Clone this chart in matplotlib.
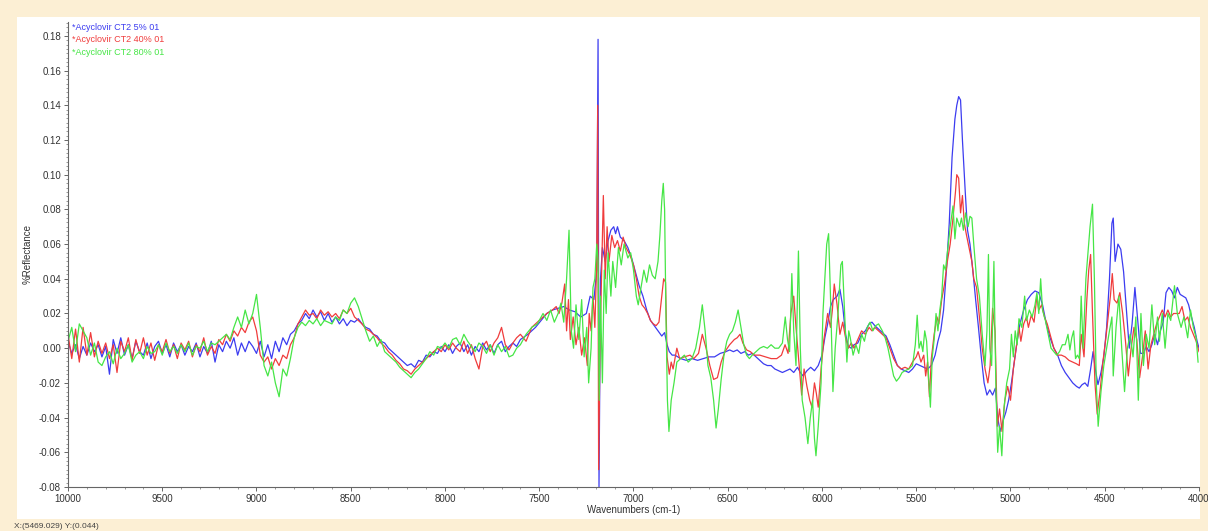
import numpy as np
import matplotlib
matplotlib.use('Agg')
import matplotlib.pyplot as plt
from matplotlib.patches import Rectangle
from matplotlib.ticker import MultipleLocator, FormatStrFormatter

plt.rcParams['font.family'] = ['Liberation Sans', 'DejaVu Sans']

# подписи и цвета спектров
labels = ['*Acyclovir CT2 5% 01', '*Acyclovir CT2 40% 01', '*Acyclovir CT2 80% 01']
colors = ['#3c3cf0', '#f03c3c', '#46e646']

# левая (шумная) часть, общая сетка волновых чисел
wn_left = np.arange(10000, 7600, -20)

blue_left = [
    0.004, -0.003, 0.002, -0.006, 0.001, -0.004, 0.003, -0.002, 0.002, -0.005,
    0.001, -0.015, 0.005, -0.003, 0.006, -0.004, 0.002, -0.006, 0.004, -0.002,
    -0.004, 0.003, -0.006, 0.001, 0.004, -0.003, 0.002, -0.005, 0.003, -0.002,
    0.002, -0.004, 0.001, -0.002, 0.003, -0.005, 0.001, -0.003, 0.004, -0.008,
    0.002, -0.002, 0.004, 0.0, 0.006, -0.004, 0.003, -0.002, 0.004, 0.001,
    -0.003, 0.004, -0.005, 0.002, -0.006, 0.004, -0.002, 0.006, 0.002, 0.008,
    0.01, 0.014, 0.016, 0.02, 0.017, 0.022, 0.018, 0.021, 0.016, 0.02,
    0.015, 0.018, 0.014, 0.017, 0.013, 0.016, 0.015, 0.017, 0.014, 0.012,
    0.011, 0.008, 0.007, 0.004, 0.003, 0.0, -0.002, -0.004, -0.006, -0.008,
    -0.01, -0.009, -0.011, -0.007, -0.008, -0.004, -0.005, -0.002, -0.003, 0.001,
    -0.002, 0.002, -0.003, 0.001, 0.003, -0.002, 0.002, -0.004, 0.001, -0.002,
    0.003, -0.001, 0.002, -0.003, 0.002, 0.004, -0.002, 0.001, 0.003, 0.001,
]

red_left = [
    0.008, -0.006, 0.011, -0.008, 0.012, -0.004, 0.009, -0.005, 0.004, -0.003,
    0.003, -0.006, 0.002, -0.014, 0.004, -0.002, 0.006, -0.007, 0.005, -0.003,
    0.006, -0.004, 0.003, -0.007, 0.002, -0.002, 0.005, -0.003, 0.002, -0.006,
    0.003, -0.001, 0.004, -0.005, 0.002, -0.002, 0.006, -0.004, 0.001, -0.003,
    0.005, 0.002, 0.008, 0.004, 0.01, 0.007, 0.012, 0.009, 0.015, 0.018,
    0.01, -0.004, -0.008, -0.005, -0.012, -0.006, -0.01, -0.004, -0.006, 0.002,
    0.006, 0.014, 0.018, 0.022, 0.019, 0.02, 0.017, 0.022, 0.019, 0.021,
    0.018, 0.02, 0.017, 0.022, 0.02, 0.023, 0.018, 0.016, 0.014, 0.011,
    0.01, 0.008, 0.006, 0.003, 0.001, -0.002, -0.004, -0.007, -0.009, -0.012,
    -0.013, -0.015, -0.012, -0.01, -0.008, -0.006, -0.004, -0.002, 0.0, -0.002,
    0.002, -0.001, 0.003, 0.0, -0.002, 0.004, -0.003, 0.002, -0.006, -0.012,
    0.001, 0.004, -0.002, 0.003, 0.006, 0.012, 0.002, -0.001, 0.003, 0.006,
]

green_left = [
    0.004, 0.012, -0.002, 0.014, 0.01, 0.006, -0.004, 0.003, -0.008, -0.01,
    -0.005, -0.002, -0.009, 0.0, -0.006, -0.003, 0.002, -0.008, -0.004, -0.002,
    -0.006, 0.001, -0.003, -0.002, 0.002, -0.004, 0.003, -0.002, 0.001, -0.003,
    0.002, -0.002, 0.003, -0.004, 0.001, 0.0, 0.004, -0.002, 0.003, 0.002,
    0.004, 0.006, 0.008, 0.005, 0.012, 0.018, 0.012, 0.022, 0.014, 0.02,
    0.031, 0.012, -0.01, -0.016, -0.008, -0.02, -0.028, -0.012, -0.016, -0.006,
    0.006, 0.012, 0.015, 0.013, 0.016, 0.014, 0.017, 0.013, 0.016, 0.015,
    0.014, 0.018, 0.016, 0.022, 0.02, 0.026, 0.029, 0.024, 0.017, 0.01,
    0.004, 0.007, 0.001, 0.005, -0.002, -0.004, -0.006, -0.008, -0.011, -0.013,
    -0.015, -0.017, -0.014, -0.012, -0.009, -0.006, -0.002, -0.004, 0.001, 0.0,
    0.003, 0.0, 0.005, 0.006, 0.002, 0.008, 0.004, 0.001, -0.002, 0.003,
    0.001, -0.003, 0.002, -0.004, 0.002, -0.002, 0.001, -0.005, -0.004, 0.0,
]

# правая часть: (волновое число, значение)
blue_right = [
    (7600, 0.005), (7560, 0.008), (7520, 0.012), (7490, 0.016), (7460, 0.02),
    (7430, 0.022), (7400, 0.023), (7370, 0.024), (7340, 0.022), (7310, 0.021),
    (7280, 0.018), (7250, 0.02), (7230, 0.03), (7210, 0.028), (7195, 0.045),
    (7188, 0.178), (7183, -0.08), (7175, 0.04), (7165, 0.058), (7150, 0.05),
    (7135, 0.062), (7120, 0.068), (7105, 0.07), (7095, 0.066), (7085, 0.07),
    (7070, 0.064), (7050, 0.062), (7030, 0.058), (7010, 0.052), (6990, 0.044),
    (6970, 0.036), (6950, 0.03), (6930, 0.022), (6910, 0.016), (6890, 0.013),
    (6870, 0.01), (6850, 0.007), (6835, 0.009), (6822, 0.002), (6810, -0.002),
    (6795, -0.004), (6780, -0.004), (6750, -0.006), (6720, -0.007), (6690, -0.006),
    (6660, -0.007), (6630, -0.006), (6600, -0.005), (6570, -0.005), (6540, -0.003),
    (6510, -0.002), (6490, -0.001), (6470, -0.002), (6450, -0.001), (6430, -0.003),
    (6410, -0.002), (6390, -0.004), (6370, -0.003), (6350, -0.005), (6330, -0.007),
    (6310, -0.009), (6290, -0.01), (6270, -0.01), (6250, -0.012), (6230, -0.013),
    (6210, -0.014), (6190, -0.013), (6170, -0.012), (6150, -0.014), (6130, -0.011),
    (6115, -0.014), (6100, -0.016), (6080, -0.013), (6060, -0.011), (6040, -0.013),
    (6020, -0.01), (6000, -0.004), (5985, 0.006), (5970, 0.014), (5955, 0.024),
    (5940, 0.028), (5920, 0.03), (5905, 0.034), (5890, 0.024), (5875, 0.008),
    (5860, 0.001), (5845, 0.0), (5830, 0.002), (5810, 0.003), (5790, 0.008),
    (5770, 0.01), (5750, 0.014), (5735, 0.015), (5720, 0.013), (5700, 0.011),
    (5680, 0.009), (5660, 0.007), (5640, 0.002), (5620, -0.004), (5600, -0.01),
    (5580, -0.012), (5560, -0.013), (5540, -0.014), (5520, -0.012), (5500, -0.009),
    (5480, -0.01), (5460, -0.011), (5440, -0.012), (5420, -0.01), (5400, -0.004),
    (5385, 0.004), (5370, 0.01), (5355, 0.022), (5340, 0.045), (5325, 0.072),
    (5310, 0.11), (5295, 0.132), (5285, 0.14), (5275, 0.145), (5265, 0.143),
    (5255, 0.12), (5240, 0.09), (5228, 0.068), (5215, 0.06), (5200, 0.045),
    (5185, 0.028), (5170, 0.012), (5155, -0.005), (5140, -0.02), (5125, -0.027),
    (5110, -0.024), (5095, -0.027), (5080, -0.023), (5068, -0.04), (5055, -0.048),
    (5040, -0.042), (5025, -0.037), (5010, -0.03), (4995, -0.02), (4980, -0.008),
    (4965, 0.004), (4950, 0.014), (4930, 0.022), (4910, 0.028), (4890, 0.031),
    (4870, 0.033), (4850, 0.032), (4830, 0.025), (4810, 0.014), (4790, 0.006),
    (4770, 0.0), (4750, -0.004), (4730, -0.01), (4710, -0.014), (4690, -0.017),
    (4670, -0.02), (4650, -0.022), (4635, -0.023), (4620, -0.021), (4605, -0.02),
    (4590, -0.022), (4575, -0.012), (4562, -0.002), (4550, -0.012), (4536, -0.021),
    (4520, -0.014), (4505, -0.005), (4490, 0.012), (4475, 0.04), (4462, 0.072),
    (4455, 0.075), (4445, 0.05), (4430, 0.06), (4415, 0.057), (4400, 0.044),
    (4385, 0.022), (4370, 0.0), (4355, 0.014), (4340, 0.035), (4325, 0.016),
    (4310, -0.003), (4295, -0.003), (4280, 0.001), (4265, -0.002), (4250, 0.002),
    (4235, 0.008), (4220, 0.002), (4205, 0.01), (4190, 0.015), (4175, 0.032),
    (4160, 0.035), (4145, 0.033), (4130, 0.029), (4115, 0.035), (4100, 0.031),
    (4085, 0.03), (4070, 0.029), (4055, 0.025), (4040, 0.018), (4025, 0.012),
    (4010, 0.004), (4000, 0.0),
]

red_right = [
    (7600, 0.008), (7570, 0.004), (7540, 0.012), (7510, 0.015), (7480, 0.018),
    (7460, 0.02), (7430, 0.022), (7410, 0.024), (7395, 0.02), (7380, 0.026),
    (7365, 0.037), (7355, 0.01), (7345, 0.028), (7335, 0.005), (7320, 0.018),
    (7305, 0.002), (7290, 0.012), (7275, -0.004), (7260, 0.006), (7245, -0.01),
    (7235, 0.02), (7225, 0.01), (7215, 0.03), (7205, 0.012), (7195, 0.05),
    (7190, 0.14), (7185, -0.07), (7178, 0.0), (7160, 0.088), (7150, 0.04),
    (7140, 0.07), (7130, 0.05), (7115, 0.065), (7100, 0.058), (7085, 0.062),
    (7070, 0.056), (7055, 0.064), (7040, 0.058), (7020, 0.054), (7000, 0.048),
    (6985, 0.04), (6970, 0.03), (6955, 0.025), (6940, 0.023), (6925, 0.02),
    (6910, 0.016), (6895, 0.014), (6880, 0.013), (6865, 0.015), (6850, 0.03),
    (6840, 0.04), (6830, 0.038), (6822, -0.005), (6810, -0.015), (6800, -0.008),
    (6790, -0.012), (6770, 0.0), (6755, -0.006), (6730, -0.005), (6700, -0.004),
    (6680, -0.006), (6655, -0.003), (6635, 0.008), (6615, 0.0), (6595, -0.01),
    (6575, -0.018), (6555, -0.017), (6535, -0.008), (6515, -0.002), (6490, 0.002),
    (6465, 0.005), (6450, 0.006), (6435, 0.008), (6420, 0.003), (6400, -0.001),
    (6380, -0.002), (6360, -0.004), (6330, -0.004), (6300, -0.005), (6270, -0.006),
    (6240, -0.006), (6215, -0.004), (6196, 0.002), (6180, -0.003), (6165, 0.02),
    (6150, 0.03), (6138, 0.012), (6125, -0.005), (6108, -0.027), (6095, -0.012),
    (6080, -0.022), (6065, -0.03), (6053, -0.034), (6040, -0.02), (6030, -0.026),
    (6020, -0.034), (6005, -0.012), (5990, 0.005), (5970, 0.02), (5955, 0.012),
    (5945, 0.022), (5935, 0.037), (5920, 0.025), (5905, 0.008), (5890, 0.015),
    (5875, 0.006), (5860, 0.0), (5845, 0.003), (5830, 0.0), (5810, 0.005),
    (5790, 0.01), (5770, 0.008), (5750, 0.012), (5735, 0.01), (5720, 0.012),
    (5700, 0.01), (5680, 0.008), (5660, 0.006), (5640, 0.0), (5620, -0.006),
    (5600, -0.01), (5580, -0.012), (5560, -0.011), (5540, -0.012), (5520, -0.008),
    (5500, -0.005), (5490, -0.002), (5475, -0.008), (5460, -0.004), (5450, -0.016),
    (5440, -0.008), (5430, -0.028), (5420, -0.006), (5405, 0.008), (5390, 0.018),
    (5380, 0.014), (5365, 0.028), (5350, 0.037), (5335, 0.05), (5320, 0.06),
    (5305, 0.075), (5292, 0.09), (5285, 0.1), (5275, 0.098), (5265, 0.078),
    (5255, 0.088), (5245, 0.072), (5235, 0.066), (5220, 0.058), (5205, 0.05),
    (5195, 0.04), (5180, 0.035), (5165, 0.018), (5150, 0.0), (5135, -0.012),
    (5120, -0.02), (5108, -0.01), (5095, 0.023), (5082, 0.01), (5070, -0.045),
    (5058, -0.035), (5045, -0.048), (5030, -0.03), (5015, -0.022), (5000, -0.03),
    (4985, -0.012), (4970, 0.0), (4955, 0.012), (4945, 0.004), (4930, 0.014),
    (4915, 0.018), (4905, 0.012), (4890, 0.019), (4875, 0.015), (4860, 0.03),
    (4850, 0.022), (4835, 0.025), (4820, 0.018), (4805, 0.014), (4790, 0.008),
    (4770, 0.0), (4750, -0.004), (4730, -0.004), (4710, -0.005), (4690, -0.007),
    (4670, -0.008), (4650, -0.009), (4635, -0.01), (4625, 0.008), (4610, -0.005),
    (4595, 0.028), (4585, 0.045), (4575, 0.054), (4565, 0.02), (4552, -0.02),
    (4540, -0.038), (4525, -0.025), (4510, -0.008), (4495, 0.005), (4480, 0.02),
    (4470, 0.03), (4460, 0.043), (4450, 0.028), (4435, 0.026), (4420, 0.032),
    (4405, 0.02), (4390, 0.004), (4375, -0.016), (4360, 0.0), (4345, 0.012),
    (4330, 0.005), (4315, -0.017), (4300, -0.005), (4285, 0.01), (4270, -0.012),
    (4255, 0.002), (4240, 0.008), (4225, 0.014), (4210, 0.018), (4195, 0.022),
    (4180, 0.018), (4165, 0.022), (4150, 0.018), (4135, 0.02), (4120, 0.02),
    (4105, 0.02), (4090, 0.024), (4075, 0.016), (4060, 0.018), (4045, 0.012),
    (4030, 0.008), (4015, 0.004), (4000, -0.002),
]

green_right = [
    (7600, 0.002), (7570, 0.008), (7540, 0.012), (7510, 0.014), (7480, 0.02),
    (7460, 0.016), (7440, 0.022), (7420, 0.015), (7400, 0.02), (7385, 0.026),
    (7370, 0.015), (7355, 0.04), (7342, 0.068), (7330, 0.01), (7318, 0.0),
    (7305, 0.025), (7290, 0.005), (7275, 0.028), (7262, -0.005), (7248, 0.012),
    (7238, -0.02), (7225, 0.0), (7215, 0.035), (7205, 0.04), (7195, 0.06),
    (7188, 0.05), (7182, -0.03), (7175, 0.03), (7165, -0.02), (7155, 0.045),
    (7145, 0.02), (7135, 0.055), (7120, 0.03), (7110, 0.05), (7095, 0.035),
    (7080, 0.058), (7065, 0.048), (7050, 0.06), (7030, 0.052), (7015, 0.055),
    (7000, 0.045), (6985, 0.03), (6975, 0.025), (6960, 0.035), (6945, 0.045),
    (6930, 0.038), (6915, 0.048), (6900, 0.042), (6885, 0.04), (6870, 0.05),
    (6860, 0.065), (6850, 0.085), (6842, 0.095), (6835, 0.08), (6828, 0.02),
    (6820, -0.03), (6812, -0.048), (6800, -0.03), (6785, -0.02), (6770, -0.008),
    (6750, -0.006), (6730, -0.004), (6710, -0.008), (6690, -0.006), (6670, 0.0),
    (6650, 0.012), (6635, 0.025), (6620, 0.01), (6605, -0.01), (6590, -0.017),
    (6575, -0.03), (6562, -0.046), (6550, -0.035), (6535, -0.018), (6520, -0.004),
    (6505, 0.004), (6490, 0.008), (6475, 0.01), (6460, 0.015), (6445, 0.022),
    (6430, 0.012), (6415, 0.002), (6400, -0.004), (6385, -0.006), (6370, -0.004),
    (6350, -0.002), (6330, 0.0), (6310, 0.001), (6290, 0.0), (6270, 0.002),
    (6250, 0.0), (6230, 0.0), (6210, 0.003), (6195, 0.018), (6183, 0.005),
    (6172, -0.002), (6160, 0.043), (6150, 0.01), (6138, -0.01), (6125, 0.056),
    (6115, 0.0), (6105, -0.03), (6090, -0.04), (6075, -0.055), (6062, -0.04),
    (6050, -0.03), (6040, -0.052), (6032, -0.062), (6020, -0.045), (6005, -0.02),
    (5995, 0.02), (5985, 0.04), (5975, 0.06), (5965, 0.066), (5955, 0.03),
    (5942, -0.025), (5930, 0.0), (5915, 0.02), (5900, 0.048), (5892, 0.05),
    (5880, 0.02), (5868, -0.008), (5858, 0.01), (5850, 0.006), (5835, -0.004),
    (5820, 0.002), (5805, -0.003), (5790, 0.008), (5775, 0.004), (5760, 0.012),
    (5745, 0.015), (5730, 0.01), (5715, 0.013), (5700, 0.014), (5680, 0.01),
    (5665, 0.006), (5650, 0.0), (5635, -0.008), (5620, -0.016), (5605, -0.019),
    (5590, -0.017), (5575, -0.014), (5560, -0.013), (5540, -0.012), (5520, -0.01),
    (5505, 0.002), (5495, 0.019), (5485, 0.0), (5475, 0.004), (5465, -0.002),
    (5455, 0.01), (5445, 0.004), (5435, -0.016), (5425, -0.034), (5415, -0.005),
    (5405, 0.005), (5395, 0.02), (5385, 0.01), (5375, 0.022), (5365, 0.03),
    (5355, 0.048), (5345, 0.045), (5335, 0.055), (5320, 0.07), (5305, 0.082),
    (5295, 0.063), (5285, 0.075), (5270, 0.07), (5260, 0.075), (5250, 0.068),
    (5238, 0.078), (5225, 0.07), (5215, 0.076), (5205, 0.075), (5195, 0.06),
    (5180, 0.04), (5165, 0.03), (5150, 0.008), (5135, -0.01), (5125, 0.01),
    (5117, 0.054), (5110, 0.0), (5100, -0.01), (5088, 0.05), (5078, -0.02),
    (5068, -0.06), (5058, -0.045), (5046, -0.062), (5035, -0.035), (5020, -0.02),
    (5005, -0.012), (4995, 0.008), (4985, -0.005), (4975, 0.01), (4965, 0.002),
    (4955, 0.017), (4940, 0.012), (4925, 0.03), (4915, 0.016), (4900, 0.022),
    (4885, 0.018), (4870, 0.025), (4860, 0.032), (4850, 0.02), (4840, 0.04),
    (4830, 0.022), (4815, 0.016), (4800, 0.008), (4785, 0.0), (4770, -0.002),
    (4755, -0.004), (4740, -0.002), (4725, 0.002), (4710, 0.002), (4695, 0.008),
    (4685, -0.001), (4675, 0.006), (4665, 0.01), (4655, -0.006), (4645, -0.004),
    (4635, -0.006), (4625, 0.03), (4615, 0.0), (4600, 0.04), (4588, 0.056),
    (4578, 0.07), (4565, 0.083), (4555, 0.04), (4545, -0.02), (4535, -0.045),
    (4520, -0.025), (4505, -0.01), (4490, 0.0), (4475, 0.01), (4462, 0.018),
    (4455, -0.016), (4440, 0.012), (4425, 0.03), (4410, 0.0), (4395, -0.025),
    (4380, 0.0), (4365, 0.008), (4350, -0.005), (4335, 0.018), (4322, -0.03),
    (4308, 0.02), (4295, -0.01), (4280, 0.008), (4265, 0.0), (4250, 0.025),
    (4235, 0.002), (4220, 0.018), (4210, 0.004), (4195, 0.02), (4180, 0.0),
    (4165, 0.02), (4150, 0.016), (4130, 0.036), (4115, 0.02), (4095, 0.012),
    (4080, 0.018), (4060, 0.006), (4045, 0.022), (4030, 0.012), (4015, 0.006),
    (4005, -0.008),
]


def join(left, right):
    x = np.concatenate([wn_left[:len(left)], [p[0] for p in right]])
    y = np.concatenate([left, [p[1] for p in right]])
    return x, y


cream = '#fcefd4'
fig = plt.figure(figsize=(12.08, 5.31), dpi=100, facecolor=cream)
# белая панель под графиком
fig.add_artist(Rectangle((17 / 1208, 1 - 519 / 531), 1183 / 1208, 502 / 531,
                         transform=fig.transFigure, facecolor='white',
                         edgecolor='none', zorder=0))

ax = fig.add_axes([68 / 1208, 1 - 487 / 531, 1131 / 1208, 465 / 531])
ax.set_facecolor('none')

series = [(blue_left, blue_right), (red_left, red_right), (green_left, green_right)]
for (left, right), c in zip(series, colors):
    x, y = join(left, right)
    ax.plot(x, y, color=c, lw=0.9)

ax.set_xlim(10000, 4000)
ax.set_ylim(-0.08, 0.188)

ax.xaxis.set_major_locator(MultipleLocator(500))
ax.xaxis.set_minor_locator(MultipleLocator(100))
ax.yaxis.set_major_locator(MultipleLocator(0.02))
ax.yaxis.set_minor_locator(MultipleLocator(0.0025))
ax.yaxis.set_major_formatter(FormatStrFormatter('%.2f'))

for s in ['top', 'right']:
    ax.spines[s].set_visible(False)
for s in ['left', 'bottom']:
    ax.spines[s].set_color('#666666')
    ax.spines[s].set_linewidth(0.8)

ax.tick_params(which='major', length=3, width=0.7, color='#666666',
               labelsize=7, labelcolor='#333333', pad=2)
ax.tick_params(which='minor', length=1.5, width=0.6, color='#888888')

ax.set_xlabel('Wavenumbers (cm-1)', fontsize=7, color='#333333')
ax.xaxis.set_label_coords(0.5, -0.038)
ax.set_ylabel('%Reflectance', fontsize=7, color='#333333')
ax.yaxis.set_label_coords(-0.031, 0.5)

# подписи спектров в левом верхнем углу
for i, (lab, c) in enumerate(zip(labels, colors)):
    ax.text(0.0035, 0.989 - i * 0.027, lab, color=c, fontsize=6.5,
            transform=ax.transAxes, va='center', ha='left')

fig.text(14 / 1208, 1 - 526 / 531, 'X:(5469.029) Y:(0.044)', fontsize=6,
         color='#444444', va='center')

plt.savefig('out.png', dpi=100, facecolor=cream)
